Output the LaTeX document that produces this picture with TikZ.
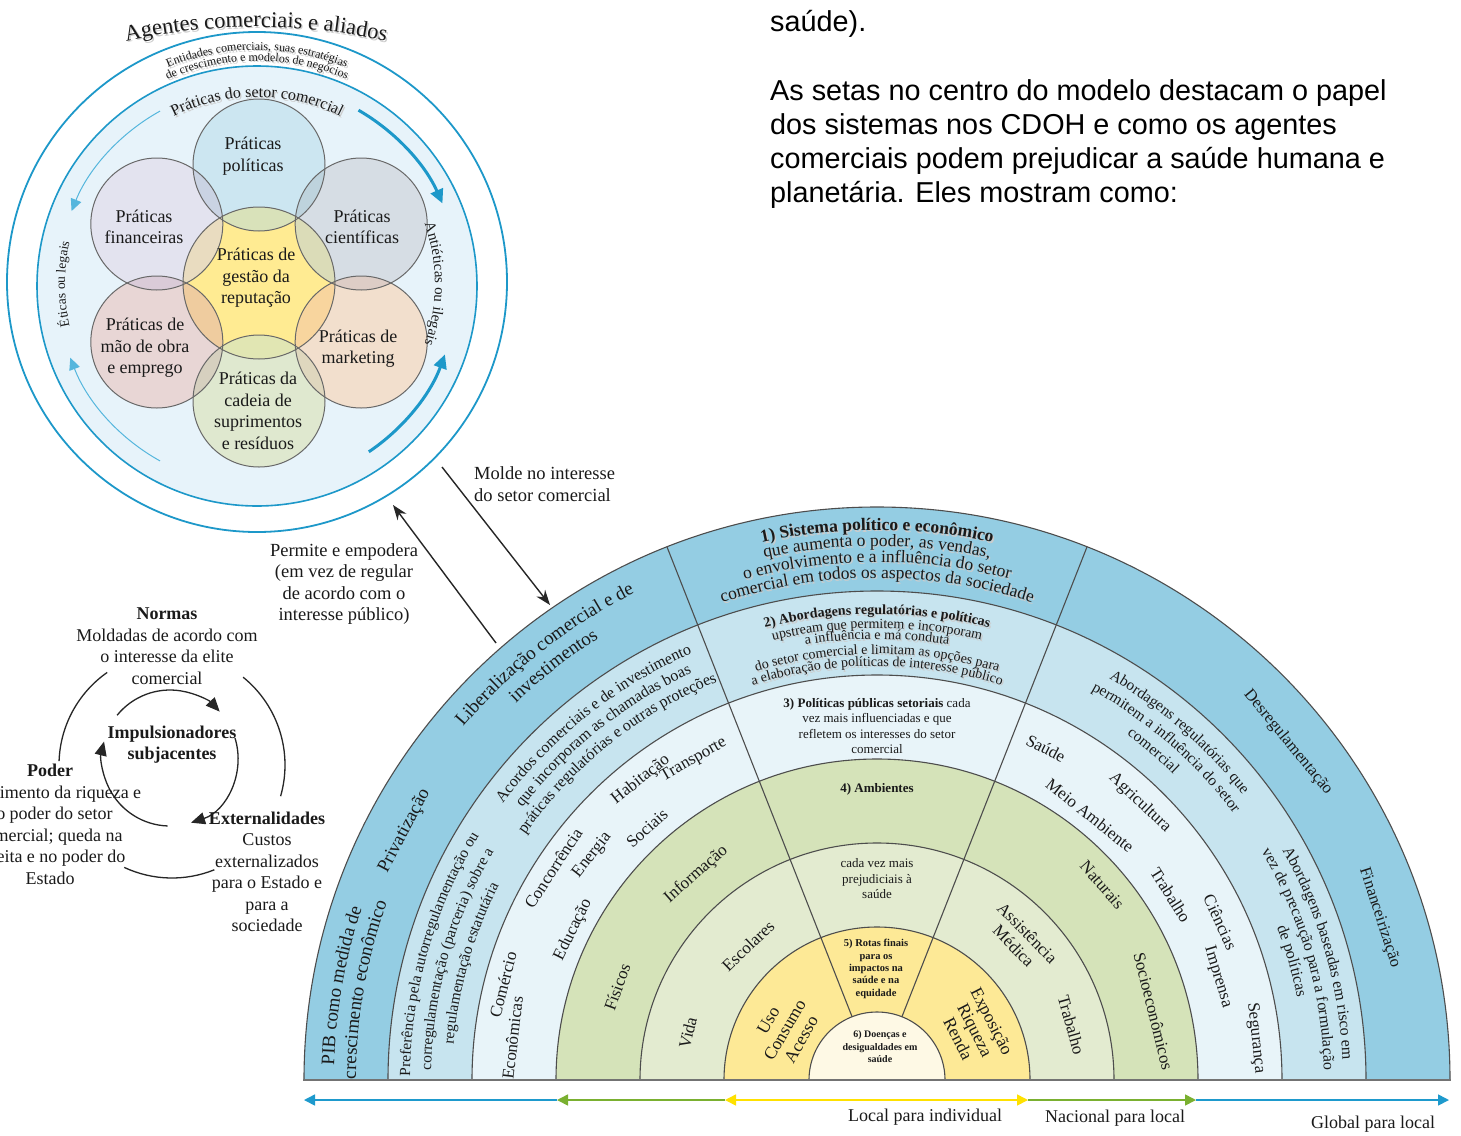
\documentclass[tikz,border=0pt]{standalone}
\usepackage{fontspec}
\setmainfont{Liberation Serif}
\newfontfamily\sansf{Liberation Sans}
\usetikzlibrary{decorations.text,arrows.meta}
\definecolor{rA}{HTML}{94CDE3}
\definecolor{rB}{HTML}{C7E4EF}
\definecolor{rC}{HTML}{E8F4F9}
\definecolor{rD}{HTML}{D5E3B9}
\definecolor{rE}{HTML}{E3EBD0}
\definecolor{rF}{HTML}{FDE996}
\definecolor{rG}{HTML}{FEF9E5}
\definecolor{lineg}{HTML}{4D4D4D}
\definecolor{txt}{HTML}{1A1A1A}
\definecolor{cblue}{HTML}{1D98C9}
\definecolor{cthin}{HTML}{55B6DD}
\definecolor{cbg}{HTML}{E7F3FA}
\definecolor{pPol}{HTML}{CCE6F1}
\definecolor{pFin}{HTML}{E3E3EF}
\definecolor{pCie}{HTML}{D6DDE4}
\definecolor{pMao}{HTML}{E8D6D5}
\definecolor{pMkt}{HTML}{F2DFCD}
\definecolor{pCad}{HTML}{DFE8CF}
\definecolor{pHub}{HTML}{FFEB92}
\definecolor{lPol}{HTML}{D9E2BA}
\definecolor{lFin}{HTML}{E9DCC0}
\definecolor{lCie}{HTML}{DBDCB8}
\definecolor{lMao}{HTML}{EFCC9F}
\definecolor{lMkt}{HTML}{F8D59E}
\definecolor{lCad}{HTML}{E1E6B3}
\definecolor{llPF}{HTML}{CAD3E3}
\definecolor{llPC}{HTML}{BED3DD}
\definecolor{llFM}{HTML}{DACBD8}
\definecolor{llCM}{HTML}{DDCDC6}
\definecolor{llMC}{HTML}{D6D0BF}
\definecolor{llKC}{HTML}{DFD7BE}
\definecolor{axBlue}{HTML}{1E9ACD}
\definecolor{axGreen}{HTML}{7AB030}
\definecolor{axYellow}{HTML}{FFE100}
\newcommand\myfs[2]{\fontsize{#1}{#2}\selectfont}
% curved text: #1 centre, #2 mid angle, #3 half span, #4 baseline radius, #5 format, #6 text, #7 colour, #8 offset
\newcommand\curvgen[8]{%
  \pgfmathsetmacro\ctA{#2+#3}%
  \pgfmathsetmacro\ctB{#2-#3}%
  \path[decorate,decoration={text along path,text align=center,text color=#7,text={|#5|#6}}]
    ([shift={(#1)},shift={#8}]\ctA:#4) arc[start angle=\ctA,end angle=\ctB,radius=#4];%
}
\newcommand\curvtext[6]{\curvgen{#1}{#2}{#3}{#4}{#5}{#6}{txt}{(0,0)}}
\newcommand\curvsh[6]{\curvgen{#1}{#2}{#3}{#4}{#5}{#6}{black!20}{(1.4,-1.8)}\curvgen{#1}{#2}{#3}{#4}{#5}{#6}{txt}{(0,0)}}
\tikzset{
  ringline/.style={draw=lineg,line width=1.1pt},
  lab/.style={inner sep=0pt,text=txt,align=center,font={\myfs{17}{19}}},
  petal/.style={draw=lineg!85,line width=1pt},
  ptxt/.style={inner sep=0pt,text=txt,align=center,font={\myfs{18}{21.5}}},
  cyc/.style={draw=black!85,line width=1.3pt},
  ctxt/.style={inner sep=0pt,text=txt,align=center,font={\myfs{18}{21.5}}},
  cyctip/.style={-{Triangle[length=14pt,width=12pt]}},
  axline/.style={line width=1.6pt},
  axtip/.style={-{Triangle[length=11pt,width=11pt]}},
}
\begin{document}
\begin{tikzpicture}[x=1pt,y=1pt]
\useasboundingbox (0,0) rectangle (1461,-1135);
\fill[white] (0,0) rectangle (1461,-1135);

% ---------------- top right paragraph
\node[anchor=base west,inner sep=0pt,font={\sansf\myfs{28.8}{34}},text=black] (tS) at (770,-31) {saúde).};
\node[anchor=north west,inner sep=0pt,align=left,font={\sansf\myfs{28.8}{34}},text=black] (tP) at (770,-79)
  {As setas no centro do modelo destacam o papel\\dos sistemas nos CDOH e como os agentes\\comerciais podem prejudicar a saúde humana e\\planetária. Eles mostram como:};

% ---------------- top-left circle diagram
\coordinate (Co) at (257,-282);
\coordinate (Ci) at (257,-286);
\coordinate (Cc) at (257,-284);
\coordinate (Ag) at (256,-627);
\draw[cblue,line width=1.8pt] (Co) circle[radius=250];
\draw[cblue,line width=1.6pt,fill=cbg] (Ci) circle[radius=220];

\coordinate (H) at (259,-283);
\path (H) ++(90:118) coordinate (PPol);
\path (H) ++(150:118) coordinate (PFin);
\path (H) ++(30:118) coordinate (PCie);
\path (H) ++(210:118) coordinate (PMao);
\path (H) ++(330:118) coordinate (PMkt);
\path (H) ++(270:118) coordinate (PCad);
\fill[pPol] (PPol) circle[radius=66];
\fill[pFin] (PFin) circle[radius=66];
\fill[pCie] (PCie) circle[radius=66];
\fill[pMao] (PMao) circle[radius=66];
\fill[pMkt] (PMkt) circle[radius=66];
\fill[pCad] (PCad) circle[radius=66];
\begin{scope}\clip (PPol) circle[radius=66]; \fill[llPF] (PFin) circle[radius=66]; \fill[llPC] (PCie) circle[radius=66];\end{scope}
\begin{scope}\clip (PMao) circle[radius=66]; \fill[llFM] (PFin) circle[radius=66]; \fill[llMC] (PCad) circle[radius=66];\end{scope}
\begin{scope}\clip (PMkt) circle[radius=66]; \fill[llCM] (PCie) circle[radius=66]; \fill[llKC] (PCad) circle[radius=66];\end{scope}
\fill[pHub] (H) circle[radius=76];
\begin{scope}\clip (H) circle[radius=76];
  \fill[lPol] (PPol) circle[radius=66];
  \fill[lFin] (PFin) circle[radius=66];
  \fill[lCie] (PCie) circle[radius=66];
  \fill[lMao] (PMao) circle[radius=66];
  \fill[lMkt] (PMkt) circle[radius=66];
  \fill[lCad] (PCad) circle[radius=66];
\end{scope}
\foreach \pc in {PPol,PFin,PCie,PMao,PMkt,PCad} \draw[petal] (\pc) circle[radius=66];
\draw[petal] (H) circle[radius=76];

\node[ptxt] (nPol) at (253,-156) {Práticas\\políticas};
\node[ptxt] (nFin) at (144,-227) {Práticas\\financeiras};
\node[ptxt] (nCie) at (362,-227) {Práticas\\científicas};
\node[ptxt] (nHub) at (256,-278) {Práticas de\\gestão da\\reputação};
\node[ptxt] (nMao) at (145,-348) {Práticas de\\mão de obra\\e emprego};
\node[ptxt] (nMkt) at (358,-348.5) {Práticas de\\marketing};
\node[ptxt] (nCad) at (258,-411) {Práticas da\\cadeia de\\suprimentos\\e resíduos};

\curvsh{Ag}{90}{20}{600}{\myfs{22.5}{22.5}}{Agentes comerciais e aliados}
\curvsh{Cc}{90}{40}{234}{\myfs{12}{12}}{Entidades comerciais, suas estratégias}
\curvsh{Cc}{90}{40}{223}{\myfs{12}{12}}{de crescimento e modelos de negócios}
\curvsh{Cc}{90}{40}{187}{\myfs{16}{16}}{Práticas do setor comercial}
\curvtext{Cc}{180}{30}{192}{\myfs{13.5}{13.5}}{Éticas ou legais}
\curvtext{Cc}{0}{30}{178}{\myfs{15}{15}}{Antiéticas ou ilegais}

\draw[cthin,line width=1pt,-{Triangle[length=12pt,width=11pt]}] ([shift={(Ci)}]119:200) arc[start angle=119,end angle=158,radius=200];
\draw[cthin,line width=1pt,-{Triangle[length=12pt,width=11pt]}] ([shift={(Ci)}]241:200) arc[start angle=241,end angle=201,radius=200];
\draw[cblue,line width=3pt,-{Triangle[length=14pt,width=13pt]}] ([shift={(Ci)}]60:203) arc[start angle=60,end angle=24,radius=203];
\draw[cblue,line width=3pt,-{Triangle[length=14pt,width=13pt]}] ([shift={(Ci)}]-56:200) arc[start angle=-56,end angle=-20,radius=200];

% ---------------- arrows between circle and arch
\coordinate (m1s) at (442,-467);
\coordinate (m1e) at (550,-605);
\coordinate (m2s) at (496,-643);
\coordinate (m2e) at (393,-505);
\draw[black!85,line width=1.4pt,-{Stealth[length=15pt,width=11pt]}] (m1s) -- (m1e);
\draw[black!85,line width=1.4pt,-{Stealth[length=15pt,width=11pt]}] (m2s) -- (m2e);
\node[anchor=west,inner sep=0pt,align=left,text=txt,font={\myfs{18.5}{22}}] (nMolde) at (474,-484) {Molde no interesse\\do setor comercial};
\node[ctxt,font={\myfs{18.5}{21.5}}] (nPerm) at (344,-584) {Permite e empodera\\(em vez de regular\\de acordo com o\\interesse público)};

% ---------------- cycle diagram
\coordinate (Y) at (172,-765);
\coordinate (Yi) at (170,-758);
\draw[cyc] ([shift={(Y)}]125:113) arc[start angle=125,end angle=178,radius=113];
\draw[cyc] ([shift={(Y)}]51:113) arc[start angle=51,end angle=-16,radius=113];
\draw[cyc] ([shift={(Y)}]-68:113) arc[start angle=-68,end angle=-115,radius=113];
\draw[cyc,cyctip] ([shift={(Yi)}]141:68) arc[start angle=141,end angle=43,radius=68];
\draw[cyc,cyctip] ([shift={(Yi)}]17:68) arc[start angle=17,end angle=-72,radius=68];
\draw[cyc,cyctip] ([shift={(Yi)}]-92:68) arc[start angle=-92,end angle=-194,radius=68];
\node[ctxt] (nNorm) at (167,-646) {\textbf{Normas}\\Moldadas de acordo com\\o interesse da elite\\comercial};
\node[ctxt] (nImp) at (172,-744.5) {\textbf{Impulsionadores}\\\textbf{subjacentes}};
\node[ctxt] (nPod) at (50,-824.5) {\textbf{Poder}\\Crescimento da riqueza e\\do poder do setor\\comercial; queda na\\receita e no poder do\\Estado};
\node[ctxt] (nExt) at (267,-872) {\textbf{Externalidades}\\Custos\\externalizados\\para o Estado e\\para a\\sociedade};

% ---------------- arch
\coordinate (O) at (877,-1080);
\foreach \rad/\col in {573/rA,489/rB,405/rC,321/rD,237/rE,153/rF,68/rG}
  \fill[\col] ([shift={(O)}]0:\rad) arc[start angle=0,end angle=180,radius=\rad] -- cycle;
\foreach \rad in {573,489,405,321,237,153,68}
  \draw[ringline] ([shift={(O)}]0:\rad) arc[start angle=0,end angle=180,radius=\rad];
\draw[ringline] ([shift={(O)}]68.5:68) -- ([shift={(O)}]68.5:573);
\draw[ringline] ([shift={(O)}]111.5:68) -- ([shift={(O)}]111.5:573);
\draw[draw=black!55,line width=2.4pt] (303,-1080) -- (1451,-1080);

% ring 1
\curvtext{O}{128}{30}{544}{\myfs{19}{19}}{Liberalização comercial e de}
\curvtext{O}{128}{30}{522}{\myfs{19}{19}}{investimentos}
\curvtext{O}{170}{20}{543}{\myfs{19}{19}}{PIB como medida de}
\curvtext{O}{170}{20}{521}{\myfs{19}{19}}{crescimento econômico}
\node[lab,font={\myfs{18.5}{19}},rotate=62.2] (tPriv) at ([shift={(O)}]152.2:534) {Privatização};
\curvsh{O}{90}{30}{550}{\bfseries\myfs{17.5}{17.5}}{1) Sistema político e econômico}
\curvsh{O}{90}{30}{534}{\myfs{17.5}{17.5}}{que aumenta o poder, as vendas,}
\curvsh{O}{90}{30}{518}{\myfs{17.5}{17.5}}{o envolvimento e a influência do setor}
\curvsh{O}{90}{30}{502}{\myfs{17.5}{17.5}}{comercial em todos os aspectos da sociedade}
\node[lab,font={\myfs{16.5}{17}},rotate=-50.6] (tDesr) at ([shift={(O)}]39.4:532) {Desregulamentação};
\node[lab,font={\myfs{16.5}{17}},rotate=-72.1] (tFin) at ([shift={(O)}]17.9:528) {Financeirização};

% ring 2
\curvtext{O}{128.5}{25}{465}{\myfs{16}{16}}{Acordos comerciais e de investimento}
\curvtext{O}{128.5}{25}{447}{\myfs{16}{16}}{que incorporam as chamadas boas}
\curvtext{O}{128.5}{25}{429}{\myfs{16}{16}}{práticas regulatórias e outras proteções}
\curvtext{O}{164}{20}{467}{\myfs{15.5}{15.5}}{Preferência pela autorregulamentação ou}
\curvtext{O}{164}{20}{446}{\myfs{15.5}{15.5}}{corregulamentação (parceria) sobre a}
\curvtext{O}{164}{20}{425}{\myfs{15.5}{15.5}}{regulamentação estatutária}
\curvsh{O}{90}{25}{466}{\bfseries\myfs{14}{14}}{2) Abordagens regulatórias e políticas}
\curvsh{O}{90}{25}{452}{\myfs{14}{14}}{upstream que permitem e incorporam}
\curvsh{O}{90}{25}{441}{\myfs{14}{14}}{a influência e má conduta}
\curvsh{O}{90}{25}{426}{\myfs{14}{14}}{do setor comercial e limitam as opções para}
\curvsh{O}{90}{25}{414}{\myfs{14}{14}}{a elaboração de políticas de interesse público}
\curvtext{O}{49}{20}{464}{\myfs{15.5}{15.5}}{Abordagens regulatórias que}
\curvtext{O}{49}{20}{445}{\myfs{15.5}{15.5}}{permitem a influência do setor}
\curvtext{O}{50}{20}{426}{\myfs{15.5}{15.5}}{comercial}
\curvtext{O}{16}{20}{466}{\myfs{16}{16}}{Abordagens baseadas em risco em}
\curvtext{O}{16}{20}{447}{\myfs{16}{16}}{vez de precaução para a formulação}
\curvtext{O}{16}{20}{428}{\myfs{16}{16}}{de políticas}

% ring 3
\node[lab,rotate=75.7] (tCom) at ([shift={(O)}]165.7:386) {Comércio};
\node[lab,rotate=83.4] (tEco) at ([shift={(O)}]173.4:367) {Econômicas};
\node[lab,rotate=56.8] (tConc) at ([shift={(O)}]146.8:387) {Concorrência};
\node[lab,rotate=63.7] (tEdu) at ([shift={(O)}]153.7:339) {Educação};
\node[lab,rotate=51.7] (tEne) at ([shift={(O)}]141.7:363) {Energia};
\node[lab,rotate=42.4] (tSoc) at ([shift={(O)}]132.4:341) {Sociais};
\node[lab,rotate=38.2] (tHab) at ([shift={(O)}]128.2:382) {Habitação};
\node[lab,rotate=29.8] (tTra) at ([shift={(O)}]119.8:369) {Transporte};
\node[lab,font={\myfs{13}{15.5}}] (t3) at (877,-726) {\textbf{3) Políticas públicas setoriais} cada\\vez mais influenciadas e que\\refletem os interesses do setor\\comercial};
\node[lab,rotate=-27.5] (tSau) at ([shift={(O)}]63:372) {Saúde};
\node[lab,rotate=-38.8] (tMeio) at ([shift={(O)}]51.2:340) {Meio Ambiente};
\node[lab,rotate=-43.5] (tAgr) at ([shift={(O)}]46.5:382) {Agricultura};
\node[lab,rotate=-57.8] (tTrab) at ([shift={(O)}]32.2:347) {Trabalho};
\node[lab,rotate=-65.3] (tCie) at ([shift={(O)}]24.7:378) {Ciências};
\node[lab,rotate=-73.2] (tImp) at ([shift={(O)}]16.8:356) {Imprensa};
\node[lab,rotate=-83.7] (tSeg) at ([shift={(O)}]6.3:381) {Segurança};

% ring 4
\node[lab,rotate=41.3] (tInf) at ([shift={(O)}]131.3:274) {Informação};
\node[lab,rotate=70.3] (tFis) at ([shift={(O)}]160.3:276) {Físicos};
\node[lab,font={\bfseries\myfs{13}{15}}] (t4) at (877,-789) {4) Ambientes};
\node[lab,rotate=-49.1] (tNat) at ([shift={(O)}]40.9:298) {Naturais};
\node[lab,rotate=-76] (tSocio) at ([shift={(O)}]14:285) {Socioeconômicos};

% ring 5
\node[lab,rotate=43.9] (tEsc) at ([shift={(O)}]133.9:186) {Escolares};
\node[lab,rotate=76] (tVida) at ([shift={(O)}]166:195) {Vida};
\node[lab,font={\myfs{13}{15.5}}] (t5m) at (877,-879) {cada vez mais\\prejudiciais à\\saúde};
\node[lab,rotate=-45.6] (tAss) at ([shift={(O)}]44.4:201) {Assistência\\Médica};
\node[lab,rotate=-74.2] (tTrab2) at ([shift={(O)}]15.8:202) {Trabalho};

% ring 6
\node[lab,font={\myfs{17.5}{19}},rotate=60] (tUso) at ([shift={(O)}]151.5:105) {Uso\\Consumo\\Acesso};
\node[lab,font={\myfs{17.5}{19}},rotate=-63] (tExp) at ([shift={(O)}]27:110) {Exposição\\Riqueza\\Renda};
\node[lab,font={\bfseries\myfs{10.5}{12.4}}] (t5) at (876,-969) {5) Rotas finais\\para os\\impactos na\\saúde e na\\equidade};

% ring 7
\node[lab,font={\bfseries\myfs{10}{12.5}}] (t6) at (880,-1047) {6) Doenças e\\desigualdades em\\saúde};

% ---------------- bottom axis
\coordinate (axL) at (304,-1100);
\coordinate (axA) at (557,-1100);
\coordinate (axB) at (725,-1100);
\coordinate (axC) at (1028,-1100);
\coordinate (axD) at (1196,-1100);
\coordinate (axR) at (1449,-1100);
\draw[axBlue,axline,axtip] (axA) -- (axL);
\draw[axGreen,axline,axtip] (axB) -- (axA);
\draw[axYellow,axline,{Triangle[length=11pt,width=11pt]}-{Triangle[length=11pt,width=11pt]}] (axB) -- (axC);
\draw[axGreen,axline,axtip] (axC) -- (axD);
\draw[axBlue,axline,axtip] (axD) -- (axR);
\node[inner sep=0pt,text=txt,font={\myfs{18}{18}}] (lbLoc) at (925,-1117) {Local para individual};
\node[inner sep=0pt,text=txt,font={\myfs{18}{18}}] (lbNac) at (1115,-1118) {Nacional para local};
\node[inner sep=0pt,text=txt,font={\myfs{18}{18}}] (lbGlo) at (1373,-1124) {Global para local};
\end{tikzpicture}
\end{document}
